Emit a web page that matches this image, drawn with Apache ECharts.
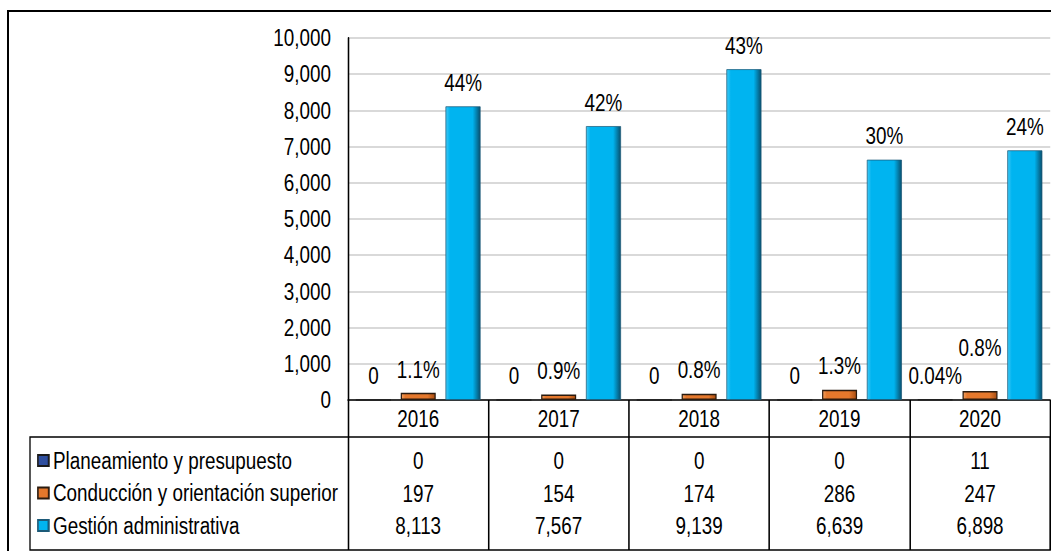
<!DOCTYPE html>
<html>
<head>
<meta charset="utf-8">
<script src="https://cdn.jsdelivr.net/npm/echarts@6/dist/echarts.min.js"></script>
<style>
    html, body {margin: 0; padding: 0; background: #fff; overflow: hidden;}
    #frame {position: absolute; left: 7px; top: 10px; width: 1200px; height: 700px; border: 2px solid #000;}
    #chart {position: absolute; left: 0; top: 0; height: 551px; transform-origin: 0 0;}
</style>
</head>
<body>
<div id="frame"></div>
<div id="chart"></div>
<script>
const years = ['2016', '2017', '2018', '2019', '2020'];
const seriesNames = ['Planeamiento y presupuesto', 'Conducción y orientación superior', 'Gestión administrativa'];
const planeamiento = [0, 0, 0, 0, 11];
const conduccion = [197, 154, 174, 286, 247];
const gestion = [8113, 7567, 9139, 6639, 6898];
const planeamientoPct = ['0', '0', '0', '0', '0.04%'];
const conduccionPct = ['1.1%', '0.9%', '0.8%', '1.3%', '0.8%'];
const gestionPct = ['44%', '42%', '43%', '30%', '24%'];

// the source uses a narrow face; no narrow font here, so squeeze the whole chart horizontally
const SX = 0.82;
const W = 1051;
const X = (px) => px / SX;

const FONT = "'Liberation Sans', Arial, sans-serif";
const FS = 23;
const fmt = (v) => Number(v).toLocaleString('en-US');

const el = document.getElementById('chart');
el.style.width = X(W) + 'px';
el.style.transform = 'scaleX(' + SX + ')';

function bevel(light, mid, dark) {
    return new echarts.graphic.LinearGradient(0, 0, 1, 0, [
        {offset: 0, color: light},
        {offset: 0.12, color: mid},
        {offset: 0.78, color: mid},
        {offset: 1, color: dark},
    ]);
}

function withExtras(values, extra) {
    return values.map((v, i) => (extra[i] ? {value: v, label: extra[i]} : v));
}

// one category axis per table row; its labels come from the data arrays
function tableRow(values, offset) {
    return {
        type: 'category',
        gridIndex: 0,
        data: years,
        position: 'bottom',
        offset: offset,
        axisLine: {show: false},
        axisTick: {show: false},
        axisLabel: {
            margin: 7,
            fontFamily: FONT,
            fontSize: FS,
            lineHeight: FS,
            color: '#000',
            formatter: (val, idx) => fmt(values[idx]),
        },
    };
}

const chart = echarts.init(el, null, {renderer: 'svg'});

const labelBase = {
    show: true,
    position: 'top',
    distance: 12,
    fontFamily: FONT,
    fontSize: FS,
    lineHeight: FS,
    color: '#000',
};

const barCommon = {
    type: 'bar',
    barWidth: X(35),
    barGap: '28%',
};

chart.setOption({
    animation: false,
    backgroundColor: 'transparent',
    grid: [
        {left: X(348), right: X(1), top: 38, bottom: 151},
        {left: X(30), right: X(1), top: 437, bottom: 1, show: true, borderColor: '#000', borderWidth: 1.6, backgroundColor: 'transparent'},
    ],
    legend: {
        orient: 'vertical',
        left: X(33),
        top: 444,
        itemWidth: X(11),
        itemHeight: 11,
        itemGap: 9.5,
        icon: 'rect',
        selectedMode: false,
        textStyle: {
            fontFamily: FONT,
            fontSize: FS,
            lineHeight: FS,
            color: '#000',
            padding: [0, 0, 0, 0],
        },
        data: seriesNames,
    },
    xAxis: [
        {
            type: 'category',
            gridIndex: 0,
            data: years,
            axisLine: {lineStyle: {color: '#000', width: 1.6}},
            axisTick: {show: true, length: 150, lineStyle: {color: '#000', width: 1.9}},
            axisLabel: {
                margin: 7,
                fontFamily: FONT,
                fontSize: FS,
                lineHeight: FS,
                color: '#000',
            },
        },
        tableRow(planeamiento, 42),
        tableRow(conduccion, 75),
        tableRow(gestion, 107),
    ],
    yAxis: {
        type: 'value',
        gridIndex: 0,
        min: 0,
        max: 10000,
        interval: 1000,
        axisLine: {show: true, lineStyle: {color: '#000', width: 1.9}},
        axisTick: {show: false},
        splitLine: {lineStyle: {color: '#d9d9d9', width: 2}},
        axisLabel: {
            margin: X(17),
            fontFamily: FONT,
            fontSize: FS,
            color: '#000',
            formatter: fmt,
        },
    },
    series: [
        {
            ...barCommon,
            name: seriesNames[0],
            data: planeamiento,
            itemStyle: {color: bevel('#5a7ac8', '#2f4f9f', '#1a2c5c'), borderColor: '#1a1a1a', borderWidth: 0.8},
            label: {...labelBase, formatter: (p) => planeamientoPct[p.dataIndex]},
        },
        {
            ...barCommon,
            name: seriesNames[1],
            data: withExtras(conduccion, {4: {offset: [0, -20]}}),
            itemStyle: {color: bevel('#f3a060', '#e5782c', '#a84c10'), borderColor: '#2a1a0e', borderWidth: 1.5},
            label: {...labelBase, formatter: (p) => conduccionPct[p.dataIndex]},
        },
        {
            ...barCommon,
            name: seriesNames[2],
            data: gestion,
            itemStyle: {color: bevel('#40c8f5', '#00b4f0', '#08506f'), borderColor: '#1c5a78', borderWidth: 0.8},
            label: {...labelBase, formatter: (p) => gestionPct[p.dataIndex]},
        },
    ],
});
</script>
</body>
</html>
